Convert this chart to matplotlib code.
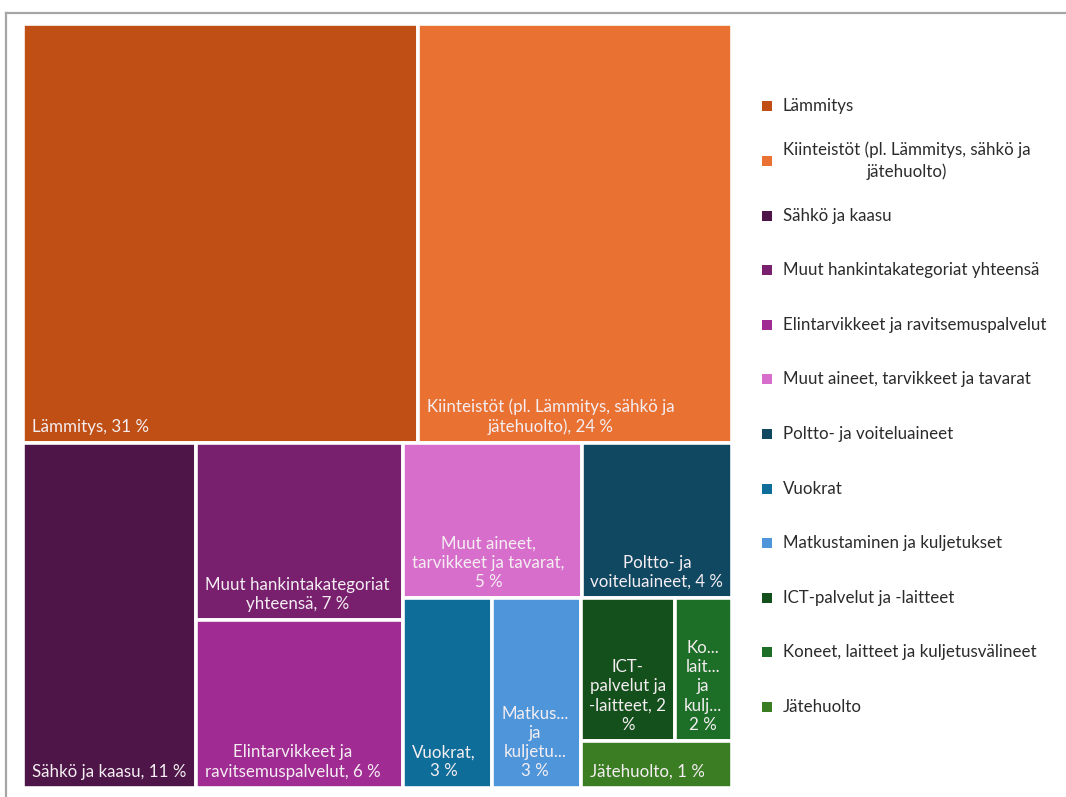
import matplotlib
matplotlib.use("Agg")
import matplotlib.pyplot as plt
from matplotlib.lines import Line2D
from matplotlib.patches import Rectangle

# ---------------- data ----------------
categories = [
    "Lämmitys",
    "Kiinteistöt (pl. Lämmitys, sähkö ja\njätehuolto)",
    "Sähkö ja kaasu",
    "Muut hankintakategoriat yhteensä",
    "Elintarvikkeet ja ravitsemuspalvelut",
    "Muut aineet, tarvikkeet ja tavarat",
    "Poltto- ja voiteluaineet",
    "Vuokrat",
    "Matkustaminen ja kuljetukset",
    "ICT-palvelut ja -laitteet",
    "Koneet, laitteet ja kuljetusvälineet",
    "Jätehuolto",
]
values = [30.6, 24.3, 11.0, 6.8, 6.4, 5.1, 4.3, 3.1, 3.1, 2.5, 1.5, 1.3]
pct_shown = [31, 24, 11, 7, 6, 5, 4, 3, 3, 2, 2, 1]
cell_labels = [
    "Lämmitys, {} %",
    "Kiinteistöt (pl. Lämmitys, sähkö ja\njätehuolto), {} %",
    "Sähkö ja kaasu, {} %",
    "Muut hankintakategoriat\nyhteensä, {} %",
    "Elintarvikkeet ja\nravitsemuspalvelut, {} %",
    "Muut aineet,\ntarvikkeet ja tavarat,\n{} %",
    "Poltto- ja\nvoiteluaineet, {} %",
    "Vuokrat,\n{} %",
    "Matkus...\nja\nkuljetu...\n{} %",
    "ICT-\npalvelut ja\n-laitteet, {}\n%",
    "Ko...\nlait...\nja\nkulj...\n{} %",
    "Jätehuolto, {} %",
]
colors = [
    "#C04F15", "#E97132", "#4E1548", "#78206E", "#A02B93", "#D86ECC",
    "#104862", "#0F6E99", "#4E95D9", "#13501B", "#1D6E27", "#3B7D23",
]

FONT = ["Lato", "DejaVu Sans"]
plt.rcParams["font.family"] = FONT
FS = 12.2


# ---------------- squarified layout (portrait-biased, like Excel) ----------------
def treemap_layout(vals, x, y, w, h, target=1.25):
    total = float(sum(vals))
    areas = [v * w * h / total for v in vals]
    rects = []
    i, n = 0, len(areas)

    def dist(a):
        return max(a / target, target / a)

    while i < n:
        vertical = w >= h  # column strip along the height

        def cells(group):
            s = sum(group)
            if vertical:
                sw = s / h
                return [(sw, a / sw) for a in group]
            sh = s / w
            return [(a / sh, sh) for a in group]

        def worst(group):
            return max(dist(ch / cw) for cw, ch in cells(group))

        j = i + 1
        best = worst(areas[i:j])
        while j < n:
            cand = worst(areas[i:j + 1])
            if cand <= best:
                best = cand
                j += 1
            else:
                break
        group = areas[i:j]
        s = sum(group)
        if vertical:
            sw = s / h
            cy = y
            for a in group:
                ch = a / sw
                rects.append((x, cy, sw, ch))
                cy += ch
            x += sw
            w -= sw
        else:
            sh = s / w
            cx = x
            for a in group:
                cw = a / sh
                rects.append((cx, y, cw, sh))
                cx += cw
            y += sh
            h -= sh
        i = j
    return rects


# ---------------- figure ----------------
PXW, PXH = 1066, 797
fig = plt.figure(figsize=(PXW / 100, PXH / 100), dpi=100)
fig.patch.set_facecolor("white")

left, top, right, bottom = 23.0, 23.5, 732.0, 787.5
W, H = right - left, bottom - top
ax = fig.add_axes([left / PXW, 1 - bottom / PXH, W / PXW, H / PXH])
ax.set_xlim(0, W)
ax.set_ylim(H, 0)
ax.axis("off")

renderer = fig.canvas.get_renderer()
rects = treemap_layout(values, 0, 0, W, H)
for (rx, ry, rw, rh), col, lab, p in zip(rects, colors, cell_labels, pct_shown):
    ax.add_patch(Rectangle((rx, ry), rw, rh, facecolor=col,
                           edgecolor="white", linewidth=2.6))
    t = ax.text(rx + 9, ry + rh - 8, lab.format(p), ha="left", va="bottom",
                multialignment="center", color="#F4EEF2", fontsize=FS,
                linespacing=1.25)
    tw = t.get_window_extent(renderer).width
    pad = min(9.0, max(2.0, (rw - tw) / 2.0))
    t.set_x(rx + pad)

# ---------------- legend ----------------
lx0, ly_top, slot = 755.0, 79.0, 54.6
n = len(categories)
lax = fig.add_axes([lx0 / PXW, 1 - (ly_top + n * slot) / PXH,
                    (PXW - lx0) / PXW, n * slot / PXH])
lax.set_xlim(0, PXW - lx0)
lax.set_ylim(n - 0.5, -0.5)
lax.axis("off")
for k, (cat, col) in enumerate(zip(categories, colors)):
    lax.scatter([12], [k], marker="s", s=62, color=col, linewidths=0)
    lax.text(28, k, cat, ha="left", va="center", multialignment="center",
             color="#2B2B2B", fontsize=FS, linespacing=1.4)

# ---------------- outer frame ----------------
fx, fy = 5.5 / PXW, 1 - 12.5 / PXH
fig.add_artist(Line2D([fx, fx], [0, fy], transform=fig.transFigure,
                      color="#A6A6A6", linewidth=1.6))
fig.add_artist(Line2D([fx, 1], [fy, fy], transform=fig.transFigure,
                      color="#A6A6A6", linewidth=1.6))

fig.savefig("out.png", dpi=100, facecolor="white")
